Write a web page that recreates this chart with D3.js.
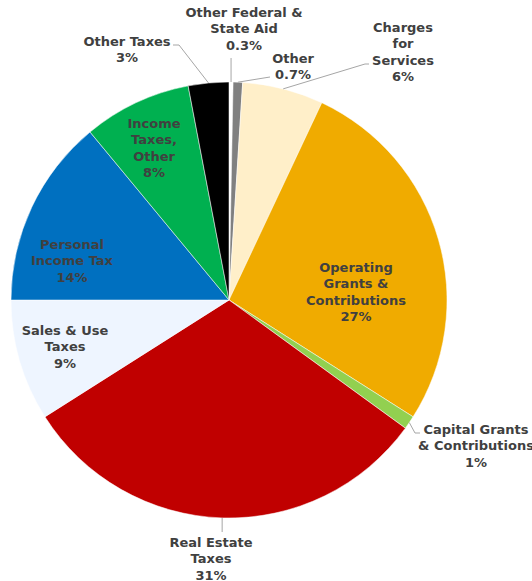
<!DOCTYPE html>
<meta charset="utf-8">
<style>

    body {
        margin: 0;
        background-color: #ffffff;
    }

    text.label {
        font-family: "DejaVu Sans", Verdana, sans-serif;
        font-weight: bold;
        font-size: 13px;
        fill: #404040;
        text-anchor: middle;
    }

    path.slice {
        stroke: #ffffff;
        stroke-width: 0.5;
    }

    polyline.leader {
        fill: none;
        stroke: #a6a6a6;
        stroke-width: 1;
    }

</style>
<body>
<script src="https://cdn.jsdelivr.net/npm/d3@7"></script>
<script>

    // slices, clockwise from 12 o'clock
    var categories = [
        "Other Federal & State Aid", "Other", "Charges for Services",
        "Operating Grants & Contributions", "Capital Grants & Contributions",
        "Real Estate Taxes", "Sales & Use Taxes", "Personal Income Tax",
        "Income Taxes, Other", "Other Taxes"
    ];

    var values = [0.3, 0.7, 6, 27, 1, 31, 9, 14, 8, 3];

    var valueLabels = ["0.3%", "0.7%", "6%", "27%", "1%", "31%", "9%", "14%", "8%", "3%"];

    // how each category name is broken into lines
    var nameLines = [
        ["Other Federal &", "State Aid"],
        ["Other"],
        ["Charges", "for", "Services"],
        ["Operating", "Grants &", "Contributions"],
        ["Capital Grants", "& Contributions"],
        ["Real Estate", "Taxes"],
        ["Sales & Use", "Taxes"],
        ["Personal", "Income Tax"],
        ["Income", "Taxes,", "Other"],
        ["Other Taxes"]
    ];

    var colors = ["#ffffff", "#808080", "#ffefc9", "#f0ab00", "#92d050",
                  "#c00000", "#eef5ff", "#0070c0", "#00b050", "#000000"];

    var width = 532,
        height = 581,
        cx = 229,
        cy = 300,
        radius = 218,
        lineHeight = 16.3;

    // label first-baseline position relative to pie centre
    var labelPos = [
        [15, -283], [64, -237], [174, -268], [127, -28], [247, 134],
        [-18, 247], [-164, 35], [-157, -51], [-75, -172], [-102, -254]
    ];

    // leader line bends/ends (relative to centre), null = label sits inside
    var leaderPts = [
        [[2, -242]],
        [[41, -223]],
        [[136, -236], [140, -236]],
        null,
        [[186, 133], [191, 133]],
        [[-7, 232]],
        null,
        null,
        null,
        [[-50, -255], [-56, -255]]
    ];

    var data = values.map(function(v, i) {
        return {name: categories[i], value: v, label: valueLabels[i], lines: nameLines[i], color: colors[i], i: i};
    });

    var pie = d3.pie()
            .sort(null)
            .value(function(d) { return d.value; });

    var arc = d3.arc()
            .innerRadius(0)
            .outerRadius(radius);

    var edgeArc = d3.arc()
            .innerRadius(radius)
            .outerRadius(radius);

    var svg = d3.select("body").append("svg")
            .attr("width", width)
            .attr("height", height)
        .append("g")
            .attr("transform", "translate(" + cx + "," + cy + ")");

    var arcs = pie(data);

    svg.append("g").selectAll("path")
            .data(arcs)
        .enter().append("path")
            .attr("class", "slice")
            .attr("fill", function(d) { return d.data.color; })
            .attr("d", arc);

    svg.append("g").selectAll("polyline")
            .data(arcs.filter(function(d) { return leaderPts[d.data.i]; }))
        .enter().append("polyline")
            .attr("class", "leader")
            .attr("points", function(d) {
                var start = edgeArc.centroid(d);
                var pts = leaderPts[d.data.i].map(function(p, k) {
                    // vertical leaders keep the start x
                    if (leaderPts[d.data.i].length === 1 && Math.abs(p[0] - start[0]) < 8) return [start[0], p[1]];
                    return p;
                });
                return [start].concat(pts).map(function(p) { return p.join(","); }).join(" ");
            });

    var labels = svg.append("g").selectAll("text")
            .data(arcs)
        .enter().append("text")
            .attr("class", "label")
            .attr("transform", function(d) {
                var p = labelPos[d.data.i];
                return "translate(" + p[0] + "," + p[1] + ")";
            });

    labels.selectAll("tspan")
            .data(function(d) { return d.data.lines.concat([d.data.label]); })
        .enter().append("tspan")
            .attr("x", 0)
            .attr("y", function(d, k) { return k * lineHeight; })
            .text(function(d) { return d; });

</script>
